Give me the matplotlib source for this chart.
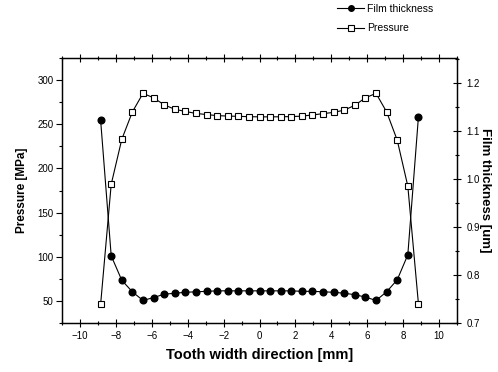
import matplotlib
matplotlib.use("Agg")
import matplotlib.pyplot as plt
from matplotlib.ticker import MultipleLocator, FormatStrFormatter
from matplotlib.lines import Line2D

plt.rcParams['font.family'] = ['Liberation Sans', 'DejaVu Sans']

# position along the tooth width [mm]
x_mm = [-8.85, -8.26, -7.67, -7.08, -6.49, -5.90, -5.31, -4.72, -4.13, -3.54,
        -2.95, -2.36, -1.77, -1.18, -0.59, 0.00, 0.59, 1.18, 1.77, 2.36,
        2.95, 3.54, 4.13, 4.72, 5.31, 5.90, 6.49, 7.08, 7.67, 8.26, 8.85]

# pressure [MPa]
pressure = [46, 182, 233, 264, 285, 280, 272, 267, 264.5, 262.3,
            261, 259.8, 259.3, 259, 258.6, 258.4, 258.4, 258.5, 258.7, 259.2,
            260.6, 262, 263.5, 266, 271.5, 280, 285, 264, 232, 180, 47]

# film thickness [um]
film = [1.123, 0.840, 0.789, 0.765, 0.747, 0.753, 0.760, 0.762, 0.764, 0.765,
        0.766, 0.767, 0.767, 0.767, 0.767, 0.767, 0.767, 0.767, 0.767, 0.766,
        0.766, 0.765, 0.764, 0.762, 0.759, 0.754, 0.747, 0.765, 0.790, 0.842, 1.129]

fig = plt.figure(figsize=(4.98, 3.72), dpi=100)
ax = fig.add_axes([0.1245, 0.1317, 0.7932, 0.7123])
ax2 = ax.twinx()

ax.plot(x_mm, pressure, color='black', lw=0.8, marker='s', ms=4.8,
        mfc='white', mec='black', mew=0.8, zorder=3)
ax2.plot(x_mm, film, color='black', lw=0.8, marker='o', ms=4.8,
         mfc='black', mec='black', zorder=3)

ax.set_xlim(-11, 11)
ax.set_ylim(25, 325)
ax2.set_ylim(0.7, 1.252)

ax.xaxis.set_major_locator(MultipleLocator(2))
ax.xaxis.set_minor_locator(MultipleLocator(1))
ax.yaxis.set_major_locator(MultipleLocator(50))
ax.yaxis.set_minor_locator(MultipleLocator(25))
ax2.yaxis.set_major_locator(MultipleLocator(0.1))
ax2.yaxis.set_minor_locator(MultipleLocator(0.05))
ax2.yaxis.set_major_formatter(FormatStrFormatter('%.1f'))

ax.tick_params(axis='x', which='both', direction='inout', top=True, labelsize=7, pad=3)
ax.tick_params(axis='x', which='major', length=6, width=0.8)
ax.tick_params(axis='x', which='minor', length=3, width=0.8)
ax.tick_params(axis='y', which='both', direction='out', labelsize=7, pad=2)
ax.tick_params(axis='y', which='major', length=4, width=0.8)
ax.tick_params(axis='y', which='minor', length=2, width=0.8)
ax2.tick_params(axis='y', which='both', direction='inout', labelsize=7, pad=4)
ax2.tick_params(axis='y', which='major', length=6, width=0.8)
ax2.tick_params(axis='y', which='minor', length=3, width=0.8)

for a in (ax, ax2):
    for s in a.spines.values():
        s.set_linewidth(0.9)

ax.set_xlabel('Tooth width direction [mm]', fontsize=10.5, fontweight='bold', labelpad=5)
ax.set_ylabel('Pressure [MPa]', fontsize=8.5, fontweight='bold', labelpad=7)
ax2.set_ylabel('Film thickness [um]', fontsize=9.5, fontweight='bold',
               rotation=-90, labelpad=8)

handles = [
    Line2D([], [], color='black', lw=0.8, marker='o', ms=4, mfc='black'),
    Line2D([], [], color='black', lw=0.8, marker='s', ms=4, mfc='white', mew=0.8),
]
fig.legend(handles, ['Film thickness', 'Pressure'], loc='upper left',
           bbox_to_anchor=(0.658, 1.015), frameon=False, fontsize=7.5,
           handlelength=2.6, handletextpad=0.3, labelspacing=0.9)

fig.savefig('out.png', dpi=100)
